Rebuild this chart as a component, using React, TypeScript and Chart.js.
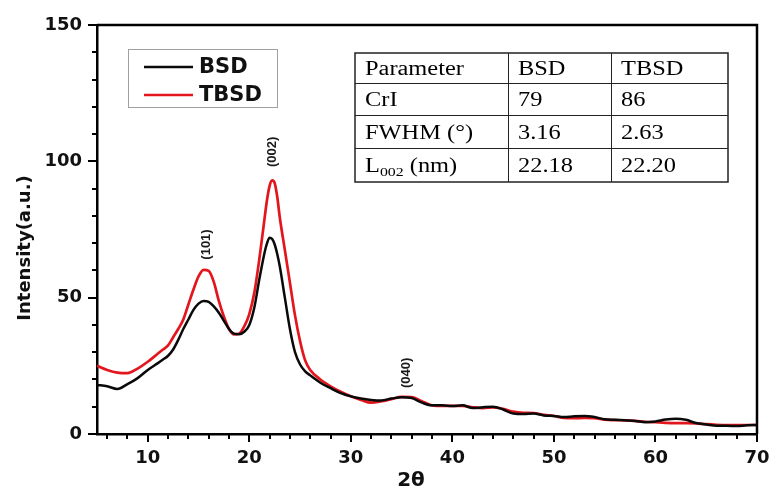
import React, { useEffect, useRef } from "react";
import { Chart, registerables } from "chart.js";

Chart.register(...registerables);

const angles = [5,6,7,8,9,10,11,11.5,12,12.5,13,13.5,14,14.5,15,15.5,16,16.5,17,17.5,18,18.5,19,19.5,20,20.5,21,21.5,21.75,22,22.25,22.5,22.75,23,23.5,24,24.5,25,25.5,26,27,28,29,30,31,32,33,34,35,36,37,38,39,40,41,42,43,44,45,46,47,48,49,50,51,52,53,54,55,56,57,58,59,60,61,62,63,64,65,66,67,68,69,70];
const bsd = [18,17.5,16.5,18.3,20.5,23.5,26,27.3,28.7,31,34.5,38.5,42,45.5,47.8,48.8,48.5,46.8,44.5,41.5,38.5,36.8,36.6,37.5,40,46.5,57,66.5,70,72,71.5,69.5,66,61.5,50,38.5,30,25.5,23,21.5,18.8,16.8,15,13.8,13,12.5,12.3,13,13.5,13.2,11.5,10.5,10.5,10.3,10.5,9.5,9.8,10,9,7.5,7.3,7.5,6.8,6.6,6.2,6.5,6.6,6.2,5.4,5.2,5,4.8,4.3,4.6,5.3,5.6,5.2,4.0,3.5,3.0,3.0,2.9,3.2,3.3];
const tbsd = [25,23.5,22.5,22.3,24,26.5,29.5,31,32.5,35.5,38.5,42,47.5,53,57.8,60.2,59.8,55.8,48.8,43,38.5,36.5,36.8,39.5,44,52,64.5,79,86,91,93,92,87,79.5,67.5,55.5,43.5,34,27,23.5,20,17.5,15.5,13.8,12.5,11.5,12,12.8,13.6,13.5,12,10.5,10.3,10.3,10.3,9.8,9.5,9.8,9.2,8.2,7.8,7.7,7.0,6.6,5.9,5.8,5.9,5.8,5.3,5.1,5,4.8,4.5,4.3,4.1,4.0,4.0,3.9,3.6,3.4,3.3,3.3,3.3,3.3];

const xTickLabels = [10, 20, 30, 40, 50, 60, 70];
const yTickLabels = [0, 50, 100, 150];

const peakLabels = ["(101)", "(002)", "(040)"];
const peakPositions = [15.8, 22.3, 35.5];
const peakLabelValues = [69.5, 103.5, 22.4];

const tableHeader = ["Parameter", "BSD", "TBSD"];
const tableRows = [
  ["CrI", "79", "86"],
  ["FWHM (°)", "3.16", "2.63"],
  ["L|002| (nm)", "22.18", "22.20"],
];

const SANS = "'DejaVu Sans', sans-serif";
const ARIAL = "'Liberation Sans', Arial, sans-serif";
const SERIF = "'Liberation Serif', 'Times New Roman', serif";

const decorPlugin = {
  id: "decor",
  afterDraw(chart: any) {
    const ctx = chart.ctx as CanvasRenderingContext2D;
    const ca = chart.chartArea;
    const xs = chart.scales.x;
    const ys = chart.scales.y;
    ctx.save();
    ctx.strokeStyle = "#000";
    ctx.lineWidth = 2.5;
    ctx.beginPath();
    ctx.moveTo(ca.left, ca.top);
    ctx.lineTo(ca.right, ca.top);
    ctx.lineTo(ca.right, ca.bottom);
    ctx.stroke();
    ctx.lineWidth = 2;
    for (let v = 6; v <= 70; v += 2) {
      const px = Math.round(xs.getPixelForValue(v));
      const len = v % 10 === 0 ? 8 : 5;
      ctx.beginPath();
      ctx.moveTo(px, ca.bottom);
      ctx.lineTo(px, ca.bottom + len);
      ctx.stroke();
    }
    for (let v = 0; v <= 150; v += 10) {
      const py = Math.round(ys.getPixelForValue(v));
      const len = v % 50 === 0 ? 9 : 5;
      ctx.beginPath();
      ctx.moveTo(ca.left, py);
      ctx.lineTo(ca.left - len, py);
      ctx.stroke();
    }
    ctx.fillStyle = "#111";
    ctx.font = `bold 18px ${SANS}`;
    ctx.textAlign = "center";
    ctx.textBaseline = "middle";
    ctx.save();
    ctx.translate(25, 248);
    ctx.rotate(-Math.PI / 2);
    ctx.fillText("Intensity(a.u.)", 0, 0);
    ctx.restore();
    ctx.font = `bold 20px ${SANS}`;
    ctx.fillText("2θ", 411, 481);

    ctx.font = `bold 13px ${ARIAL}`;
    ctx.fillStyle = "#1a1a1a";
    for (let i = 0; i < peakLabels.length; i++) {
      const px = xs.getPixelForValue(peakPositions[i]);
      const py = ys.getPixelForValue(peakLabelValues[i]);
      ctx.save();
      ctx.translate(px, py);
      ctx.rotate(-Math.PI / 2);
      ctx.textAlign = "center";
      ctx.textBaseline = "middle";
      ctx.fillText(peakLabels[i], 0, 0);
      ctx.restore();
    }

    ctx.strokeStyle = "#a0a0a0";
    ctx.lineWidth = 1;
    ctx.strokeRect(128.5, 49.5, 149, 58);
    const ds = chart.data.datasets;
    const ly = [67, 95];
    ctx.font = `bold 21px ${SANS}`;
    ctx.textAlign = "left";
    ctx.textBaseline = "middle";
    for (let i = 0; i < ds.length; i++) {
      ctx.strokeStyle = ds[i].borderColor;
      ctx.lineWidth = 2.5;
      ctx.beginPath();
      ctx.moveTo(144, ly[i]);
      ctx.lineTo(193, ly[i]);
      ctx.stroke();
      ctx.fillStyle = "#111";
      ctx.fillText(ds[i].label, 199, ly[i] + 1);
    }

    const colX = [355, 508, 611, 728];
    const rowY = [53, 83, 115, 148, 182];
    ctx.strokeStyle = "#222";
    ctx.lineWidth = 1.5;
    ctx.strokeRect(colX[0], rowY[0], colX[3] - colX[0], rowY[4] - rowY[0]);
    ctx.lineWidth = 1;
    for (let i = 1; i < 4; i++) {
      ctx.beginPath();
      ctx.moveTo(colX[0], rowY[i] + 0.5);
      ctx.lineTo(colX[3], rowY[i] + 0.5);
      ctx.stroke();
    }
    for (let i = 1; i < 3; i++) {
      ctx.beginPath();
      ctx.moveTo(colX[i] + 0.5, rowY[0]);
      ctx.lineTo(colX[i] + 0.5, rowY[4]);
      ctx.stroke();
    }
    ctx.fillStyle = "#000";
    ctx.textBaseline = "alphabetic";
    const sx = 1.22;
    const rows = [tableHeader, ...tableRows];
    for (let r = 0; r < rows.length; r++) {
      const base = rowY[r] + (rowY[r + 1] - rowY[r]) / 2 + 7;
      for (let c = 0; c < 3; c++) {
        const txt = rows[r][c];
        const x0 = colX[c] + 10;
        ctx.save();
        ctx.translate(x0, base);
        ctx.scale(sx, 1);
        if (txt.includes("|")) {
          const parts = txt.split("|");
          ctx.font = `20px ${SERIF}`;
          ctx.fillText(parts[0], 0, 0);
          let w = ctx.measureText(parts[0]).width;
          ctx.font = `13px ${SERIF}`;
          ctx.fillText(parts[1], w, 4);
          w += ctx.measureText(parts[1]).width;
          ctx.font = `20px ${SERIF}`;
          ctx.fillText(parts[2], w, 0);
        } else {
          ctx.font = `20px ${SERIF}`;
          ctx.fillText(txt, 0, 0);
        }
        ctx.restore();
      }
    }
    ctx.restore();
  },
};

export default function App() {
  const ref = useRef<HTMLCanvasElement>(null);
  useEffect(() => {
    if (!ref.current) return;
    const chart = new Chart(ref.current, {
      type: "line",
      data: {
        datasets: [
          {
            label: "BSD",
            data: angles.map((a, i) => ({ x: a, y: bsd[i] })),
            borderColor: "#0a0a0a",
            borderWidth: 2.5,
            pointRadius: 0,
            cubicInterpolationMode: "monotone",
          },
          {
            label: "TBSD",
            data: angles.map((a, i) => ({ x: a, y: tbsd[i] })),
            borderColor: "#e3161d",
            borderWidth: 2.7,
            pointRadius: 0,
            cubicInterpolationMode: "monotone",
          },
        ],
      },
      options: {
        animation: false,
        responsive: true,
        maintainAspectRatio: false,
        layout: { padding: { top: 25, right: 14, left: 0, bottom: 0 } },
        plugins: { legend: { display: false }, tooltip: { enabled: false } },
        scales: {
          x: {
            type: "linear",
            min: 5,
            max: 70,
            grid: { display: false },
            border: { display: true, color: "#000", width: 2.5 },
            afterBuildTicks: (s: any) => {
              s.ticks = xTickLabels.map((v) => ({ value: v }));
            },
            afterFit: (s: any) => {
              s.height = 56;
              s.paddingLeft = 0;
              s.paddingRight = 0;
            },
            ticks: {
              color: "#111",
              padding: 6,
              maxRotation: 0,
              autoSkip: false,
              font: { family: SANS, size: 18, weight: "bold" },
            },
          },
          y: {
            min: 0,
            max: 150,
            grid: { display: false },
            border: { display: true, color: "#000", width: 2.5 },
            afterBuildTicks: (s: any) => {
              s.ticks = yTickLabels.map((v) => ({ value: v }));
            },
            afterFit: (s: any) => {
              s.width = 97;
              s.paddingTop = 0;
              s.paddingBottom = 0;
            },
            ticks: {
              color: "#111",
              padding: 7,
              font: { family: SANS, size: 18, weight: "bold" },
            },
          },
        },
      },
      plugins: [decorPlugin],
    } as any);
    return () => chart.destroy();
  }, []);
  return (
    <div style={{ position: "fixed", left: 0, top: 0, width: 771, height: 490 }}>
      <canvas ref={ref} />
    </div>
  );
}
